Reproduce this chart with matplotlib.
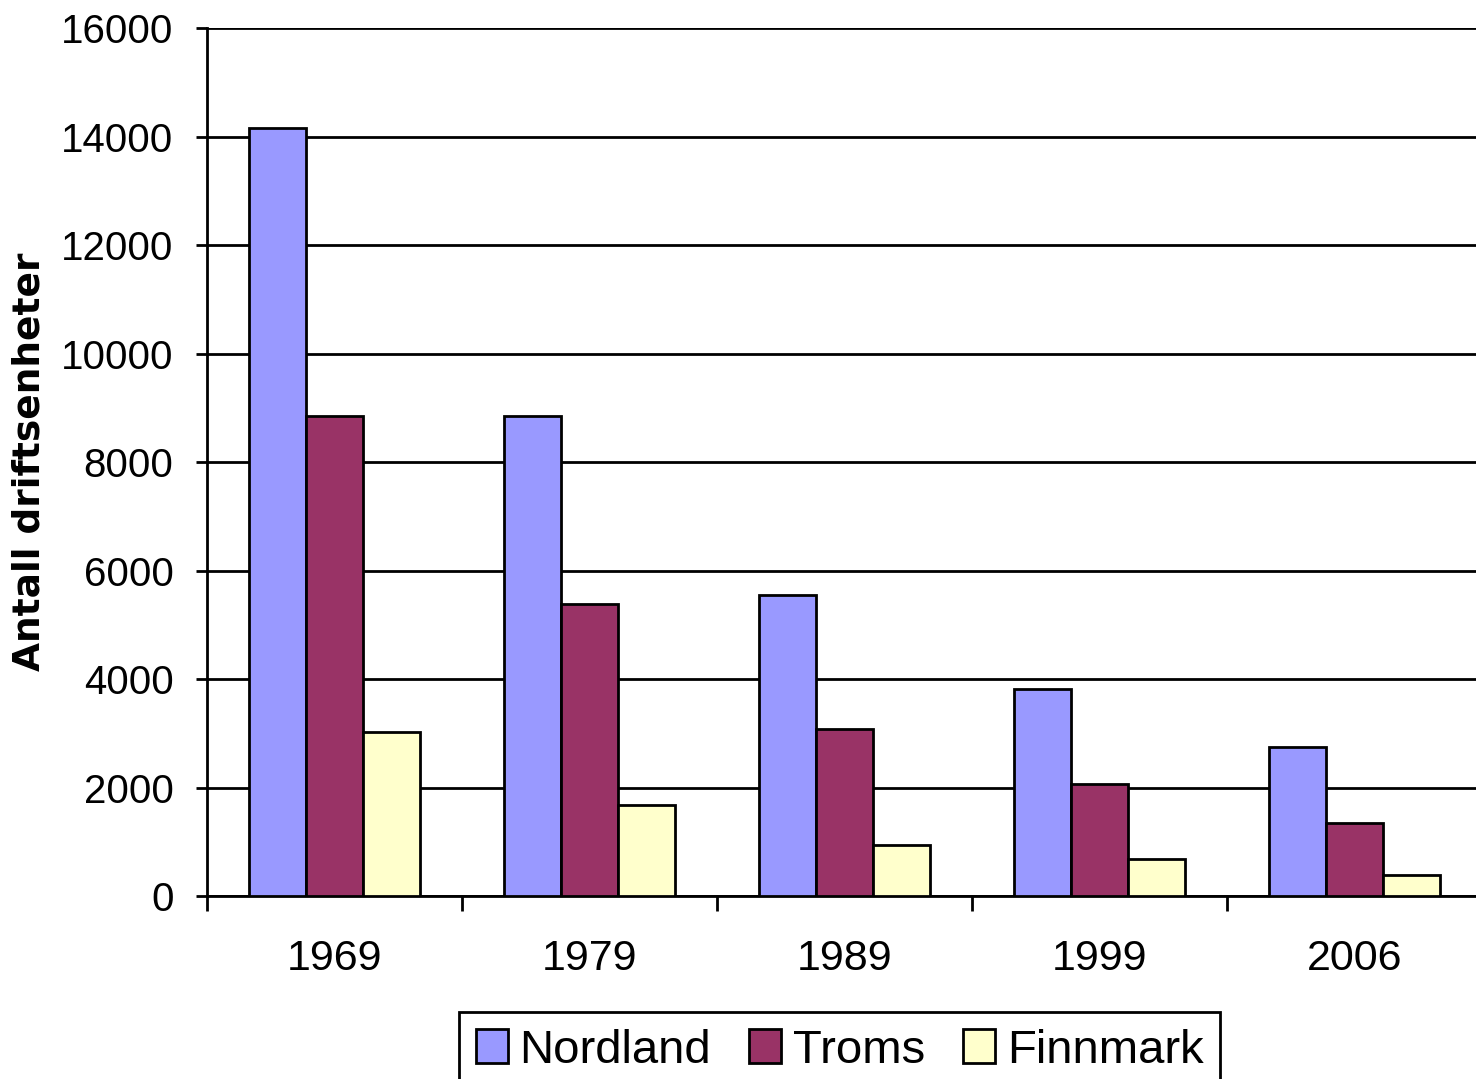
import matplotlib.pyplot as plt
import numpy as np

years = ['1969', '1979', '1989', '1999', '2006']
nordland = [14150, 8850, 5550, 3820, 2750]
troms = [8850, 5380, 3080, 2070, 1350]
finnmark = [3020, 1680, 940, 680, 390]

series = [('Nordland', nordland, '#9999FF'),
          ('Troms', troms, '#993366'),
          ('Finnmark', finnmark, '#FFFFCC')]

plt.rcParams['font.family'] = ['Liberation Sans', 'DejaVu Sans']

fig = plt.figure(figsize=(14.76, 10.79), dpi=100)
ax = fig.add_axes([0.1402, 0.1696, 0.8638, 0.8044])

x = np.arange(len(years))
w = 0.2235
for i, (name, vals, col) in enumerate(series):
    ax.bar(x + (i - 1) * w, vals, w, color=col, edgecolor='black',
           linewidth=2.0, label=name, zorder=3)

ax.set_xlim(-0.5, len(years) - 0.5)
ax.set_ylim(0, 16000)
ax.set_yticks(range(0, 16001, 2000))
ax.yaxis.grid(True, color='black', linewidth=2.0, zorder=0)
ax.set_axisbelow(True)

ax.set_xticks(x)
ax.set_xticklabels(years)
ax.set_xticks(np.arange(len(years)) - 0.5, minor=True)
ax.tick_params(axis='x', which='major', length=0, pad=31, labelsize=31)
ax.tick_params(axis='x', which='minor', length=11, width=2.0, direction='out')
ax.tick_params(axis='y', length=8, width=2.0, direction='out', pad=16, labelsize=29)

for s in ['top', 'right']:
    ax.spines[s].set_visible(False)
for s in ['left', 'bottom']:
    ax.spines[s].set_linewidth(2.0)

ax.set_ylabel('Antall driftsenheter', fontsize=27, fontweight='bold',
              family=['DejaVu Sans'])
ax.yaxis.set_label_coords(-0.125, 0.5)

leg = fig.legend(loc='upper left', bbox_to_anchor=(459 / 1476, 1 - 1012 / 1079),
                 ncol=3, fontsize=34, frameon=True, fancybox=False,
                 edgecolor='black', framealpha=1, handlelength=0.68,
                 handleheight=0.74, handletextpad=0.25, columnspacing=0.8,
                 borderpad=0.35, borderaxespad=0)
leg.get_frame().set_linewidth(2.0)

fig.savefig('out.png', dpi=100)
